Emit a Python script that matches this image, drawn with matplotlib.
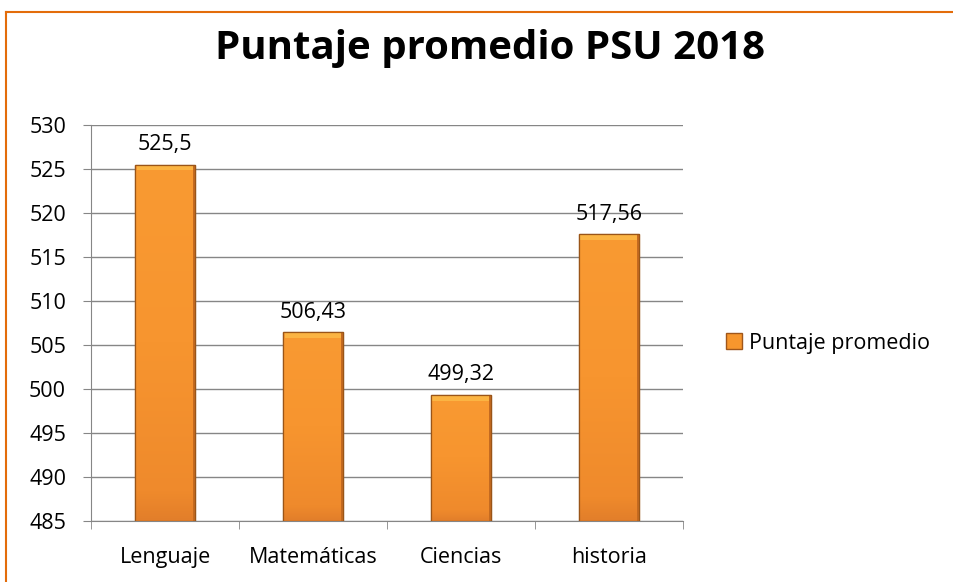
import matplotlib
matplotlib.use("Agg")
import matplotlib.pyplot as plt
import numpy as np
from matplotlib.colors import LinearSegmentedColormap
from matplotlib.patches import Rectangle
from matplotlib.lines import Line2D

categories = ["Lenguaje", "Matemáticas", "Ciencias", "historia"]
values = [525.5, 506.43, 499.32, 517.56]
labels = ["525,5", "506,43", "499,32", "517,56"]
series_name = "Puntaje promedio"
title = "Puntaje promedio PSU 2018"
yticks = [485, 490, 495, 500, 505, 510, 515, 520, 525, 530]

plt.rcParams['font.family'] = ['Open Sans', 'DejaVu Sans']

fig = plt.figure(figsize=(9.54, 5.82), dpi=100)
ax = fig.add_axes([0.0954, 0.1048, 0.6205, 0.6804])

ymin, ymax = 485, 530
ax.set_ylim(ymin, ymax)
ax.set_xlim(-0.5, len(categories) - 0.5)

cmap = LinearSegmentedColormap.from_list(
    "bar", [(0.0, "#E27E2A"), (0.08, "#EF8A2C"), (0.5, "#F7952F"), (1.0, "#F99A32")])
grad = np.linspace(0, 1, 256).reshape(-1, 1)

x = np.arange(len(categories))
width = 0.405
bars = ax.bar(x, np.array(values) - ymin, bottom=ymin, width=width,
              color="#F7962D", edgecolor="#A05A1A", linewidth=0.9, zorder=3)
for b in bars:
    x0, y0 = b.get_x(), b.get_y()
    w, h = b.get_width(), b.get_height()
    im = ax.imshow(grad, cmap=cmap, origin="lower", aspect="auto",
                   extent=[x0, x0 + w, y0, y0 + h], zorder=3.5)
    im.set_clip_path(b)
    # top bevel highlight
    ax.add_patch(Rectangle((x0 + 0.01, y0 + h - 0.65), w - 0.02, 0.6,
                           facecolor="#FBB443", edgecolor="none", zorder=3.6))
    # right darker bevel
    ax.add_patch(Rectangle((x0 + w - 0.012, y0), 0.012, h,
                           facecolor="#C46A20", edgecolor="none", zorder=3.6))
    # outline on top
    ax.add_patch(Rectangle((x0, y0), w, h, facecolor="none",
                           edgecolor="#9A5518", linewidth=0.9, zorder=3.7))

for xi, v, lab in zip(x, values, labels):
    ax.annotate(lab, (xi, v), xytext=(0, 7), textcoords="offset points",
                ha="center", va="bottom", fontsize=15.5, color="#000000")

ax.set_yticks(yticks)
ax.set_yticklabels([str(t) for t in yticks], fontsize=15.5)
ax.set_xticks(x)
ax.set_xticklabels(categories, fontsize=15.5)
ax.yaxis.grid(True, color="#868686", linewidth=1.0, zorder=0)
ax.set_axisbelow(True)

ax.tick_params(axis="x", length=0, pad=19)
ax.tick_params(axis="y", length=6, color="#868686", pad=12)
ax.set_xticks(np.arange(-0.5, len(categories), 1.0), minor=True)
ax.tick_params(axis="x", which="minor", length=6, color="#868686")

for s in ["top", "right"]:
    ax.spines[s].set_visible(False)
ax.spines["left"].set_color("#868686")
ax.spines["bottom"].set_color("#868686")

fig.text(0.514, 0.917, title, ha="center", va="center", fontsize=29,
         fontweight="bold", color="#000000")

handle = Line2D([], [], marker="s", linestyle="none", markersize=12,
                markerfacecolor="#F7962D", markeredgecolor="#A0561A")
fig.legend([handle], [series_name], loc="center left",
           bbox_to_anchor=(0.74, 0.41), frameon=False, fontsize=15.5,
           handletextpad=0.3, handlelength=0.8)

# Orange border (top and left visible)
fig.add_artist(Line2D([6 / 954, 1.0], [1 - 12 / 582, 1 - 12 / 582],
                      transform=fig.transFigure, color="#E36C0A", linewidth=1.5))
fig.add_artist(Line2D([6 / 954, 6 / 954], [0, 1 - 12 / 582],
                      transform=fig.transFigure, color="#E36C0A", linewidth=1.5))

fig.savefig("out.png", dpi=100)
